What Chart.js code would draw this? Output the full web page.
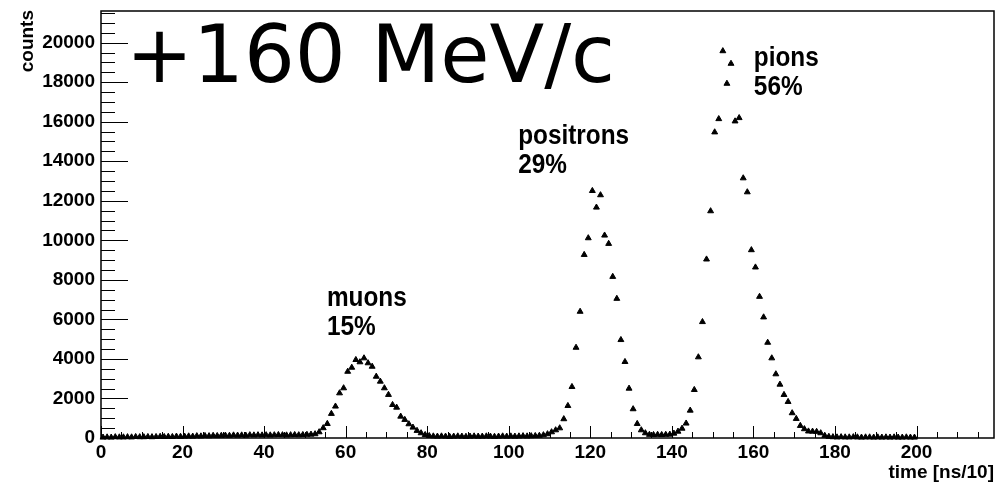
<!DOCTYPE html>
<html>
<head>
<meta charset="utf-8">
<title>+160 MeV/c time spectrum</title>
<script src="https://cdn.jsdelivr.net/npm/chart.js@4.4.0/dist/chart.umd.min.js"></script>
<style>
  html, body { margin: 0; padding: 0; background: #fff; }
  #wrap { width: 1001px; height: 482px; }
</style>
</head>
<body>
<div id="wrap"><canvas id="timeChart" width="1001" height="482"></canvas></div>
<script>
// Time-of-flight histogram, one bin per ns/10 starting at 0
const firstBin = 0;
const binWidth = 1;
const counts = [
    30,    40,    30,    50,    40,    40,    50,    40,    60,    50,   // 0-9
    50,    60,    50,    60,    70,    60,    70,    60,    80,    70,   // 10-19
    80,    90,    80,   100,    90,   110,   100,   120,   110,   120,   // 20-29
   130,   120,   140,   130,   140,   130,   150,   140,   150,   140,   // 30-39
   150,   140,   150,   160,   150,   140,   150,   160,   150,   160,   // 40-49
   170,   180,   200,   300,   505,   720,  1230,  1600,  2270,  2525,   // 50-59
  3360,  3565,  3955,  3840,  4040,  3790,  3615,  3110,  2860,  2525,   // 60-69
  2190,  1680,  1545,  1090,   925,   705,   535,   370,   250,   160,   // 70-79
   110,    90,    80,    90,    80,    70,    80,    90,    80,    70,   // 80-89
    80,    90,    80,    80,    90,    80,    70,    80,    90,    80,   // 90-99
    90,    80,    90,   100,    90,   100,   110,   120,   150,   200,   // 100-109
   300,   400,   500,   960,  1630,  2590,  4575,  6395,  9270, 10115,   // 110-119
 12505, 11665, 12290, 10250,  9830,  8160,  7050,  4965,  3855,  2505,   // 120-129
  1465,   720,   400,   250,   170,   160,   170,   160,   170,   180,   // 130-139
   230,   330,   480,   740,  1394,  2439,  4091,  5874,  9040, 11480,   // 140-149
 15470, 16140, 19576, 17929, 18939, 16025, 16192, 13146, 12439,  9510,   // 150-159
  8636,  7151,  6111,  4828,  4040,  3232,  2707,  2187,  1833,  1263,   // 160-169
   975,   621,   455,   340,   330,   320,   250,   120,    70,    50,   // 170-179
    40,    50,    40,    40,    50,    40,    30,    40,    40,    30,   // 180-189
    40,    30,    40,    30,    40,    30,    30,    40,    30,    30    // 190-199
];

// Axis ranges, labelled ticks and minor tick spacing
const xRange = [0, 219];
const yRange = [0, 21600];
const xTickValues = [0, 20, 40, 60, 80, 100, 120, 140, 160, 180, 200];
const yTickValues = [0, 2000, 4000, 6000, 8000, 10000, 12000, 14000, 16000, 18000, 20000];
const xMinorStep = 5;
const yMinorStep = 500;

// Peak annotations
const peakNames = ['muons', 'positrons', 'pions'];
const peakShares = ['15%', '29%', '56%'];
const momentumLabel = '+160 MeV/c';

const points = counts.map((c, i) => ({ x: firstBin + (i + 0.5) * binWidth, y: c }));

const boldFont = '"Liberation Sans", Arial, Helvetica, sans-serif';

// draw text squeezed horizontally
function fillSqueezed(ctx, text, x, y, squeeze) {
    ctx.save();
    ctx.translate(x, y);
    ctx.scale(squeeze, 1);
    ctx.fillText(text, 0, 0);
    ctx.restore();
}

// ROOT style frame with inward ticks, plus the free text
const frameAndLabels = {
    id: 'frameAndLabels',
    beforeDatasetsDraw(chart) {
        const { ctx, chartArea: area, scales: { x, y } } = chart;
        ctx.save();
        ctx.strokeStyle = '#000';
        ctx.lineWidth = 1;
        ctx.beginPath();
        for (let v = xRange[0]; v <= xRange[1]; v += xMinorStep) {
            const px = Math.round(x.getPixelForValue(v)) + 0.5;
            const len = xTickValues.includes(v) ? 12 : 6;
            ctx.moveTo(px, area.bottom);
            ctx.lineTo(px, area.bottom - len);
        }
        for (let v = yRange[0]; v <= yRange[1]; v += yMinorStep) {
            const py = Math.round(y.getPixelForValue(v)) + 0.5;
            const len = yTickValues.includes(v) ? 27 : 14;
            ctx.moveTo(area.left, py);
            ctx.lineTo(area.left + len, py);
        }
        ctx.stroke();
        ctx.lineWidth = 1.5;
        ctx.strokeRect(area.left, area.top, area.right - area.left, area.bottom - area.top);
        ctx.restore();
    },
    afterDraw(chart) {
        const { ctx, chartArea: area, scales: { x, y } } = chart;
        ctx.save();
        ctx.fillStyle = '#000';
        ctx.textBaseline = 'alphabetic';

        // axis titles
        ctx.font = `bold 19px ${boldFont}`;
        ctx.textAlign = 'right';
        ctx.fillText('time [ns/10]', area.right, 478);
        ctx.save();
        ctx.translate(33, 10);
        ctx.rotate(-Math.PI / 2);
        ctx.fillText('counts', 0, 0);
        ctx.restore();

        // peak names and fractions
        const anchors = [[55.4, 6680], [102.3, 14870], [160.1, 18800]];
        ctx.textAlign = 'left';
        ctx.font = `bold 28px ${boldFont}`;
        anchors.forEach(([t, c], i) => {
            const px = x.getPixelForValue(t);
            const py = y.getPixelForValue(c);
            fillSqueezed(ctx, peakNames[i], px, py, 0.87);
            fillSqueezed(ctx, peakShares[i], px, py + 29, 0.87);
        });

        // beam momentum
        ctx.font = '80px "DejaVu Sans", sans-serif';
        ctx.fillText(momentumLabel, 126, 82);
        ctx.restore();
    }
};

const tickFont = { family: boldFont, size: 19, weight: 'bold' };

// keep tick label overhang from shrinking the plot frame
function fixedFit(size, key) {
    return scale => {
        scale[key] = size;
        scale.paddingTop = 0;
        scale.paddingBottom = 0;
        scale.paddingLeft = 0;
        scale.paddingRight = 0;
    };
}

new Chart(document.getElementById('timeChart'), {
    type: 'scatter',
    data: {
        datasets: [{
            data: points,
            pointStyle: 'triangle',
            pointRadius: 3.4,
            pointBorderWidth: 1,
            backgroundColor: '#000',
            borderColor: '#000',
            showLine: false,
            clip: false
        }]
    },
    options: {
        responsive: false,
        animation: false,
        layout: { padding: { top: 11, right: 7, left: 0, bottom: 0 } },
        plugins: {
            legend: { display: false },
            tooltip: { enabled: false }
        },
        scales: {
            x: {
                type: 'linear',
                min: xRange[0],
                max: xRange[1],
                afterFit: fixedFit(44, 'height'),
                afterBuildTicks: scale => { scale.ticks = xTickValues.map(v => ({ value: v })); },
                grid: { display: false, drawTicks: false },
                border: { display: false },
                ticks: {
                    autoSkip: false,
                    maxRotation: 0,
                    padding: 3,
                    color: '#000',
                    font: tickFont,
                    callback: v => String(v)
                }
            },
            y: {
                type: 'linear',
                min: yRange[0],
                max: yRange[1],
                afterFit: fixedFit(101, 'width'),
                afterBuildTicks: scale => { scale.ticks = yTickValues.map(v => ({ value: v })); },
                grid: { display: false, drawTicks: false },
                border: { display: false },
                ticks: {
                    autoSkip: false,
                    padding: 6,
                    color: '#000',
                    font: tickFont,
                    callback: v => String(v)
                }
            }
        }
    },
    plugins: [frameAndLabels]
});
</script>
</body>
</html>
